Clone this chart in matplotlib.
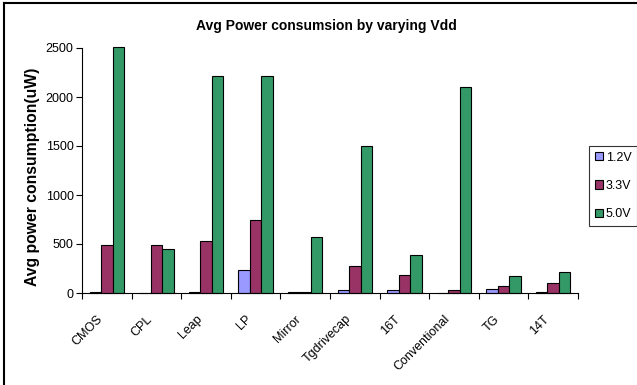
import matplotlib
matplotlib.use("Agg")
import matplotlib.pyplot as plt
import matplotlib.transforms as mtransforms
import numpy as np
from matplotlib.lines import Line2D

categories = ["CMOS", "CPL", "Leap", "LP", "Mirror", "Tgdrivecap", "16T",
              "Conventional", "TG", "14T"]
series_names = ["1.2V", "3.3V", "5.0V"]
v12 = [8, 0, 8, 232, 8, 30, 30, 0, 44, 8]
v33 = [490, 490, 535, 750, 8, 276, 187, 30, 72, 102]
v50 = [2510, 445, 2210, 2210, 575, 1500, 392, 2100, 174, 218]
colors = ["#9999FF", "#993366", "#339966"]

plt.rcParams["font.family"] = ["Liberation Sans", "DejaVu Sans"]

W, H = 637, 385
fig = plt.figure(figsize=(W / 100, H / 100), dpi=100)
ax = fig.add_axes([82 / W, 1 - 293 / H, (578 - 82) / W, (293 - 48) / H])

x = np.arange(len(categories))
w = 0.23
for i, (vals, c, name) in enumerate(zip([v12, v33, v50], colors, series_names)):
    ax.bar(x + (i - 1) * w, vals, width=w, color=c, edgecolor="black",
           linewidth=0.8, label=name, clip_on=False)

ax.set_xlim(-0.5, len(categories) - 0.5)
ax.set_ylim(0, 2500)
ax.set_yticks([0, 500, 1000, 1500, 2000, 2500])
ax.tick_params(axis="y", labelsize=9, length=4, width=0.8, direction="out", pad=2)

ax.set_xticks(x)
ax.set_xticklabels(categories, rotation=45, ha="right", va="top",
                   rotation_mode="anchor", fontsize=9)
ax.tick_params(axis="x", which="major", length=0, pad=0)
ax.set_xticks(np.arange(-0.5, len(categories)), minor=True)
ax.tick_params(axis="x", which="minor", length=4, width=0.8, direction="out")

# shift the slanted category labels down and to the left of their slots
shift = mtransforms.ScaledTranslation(-10 / 100, -20 / 100, fig.dpi_scale_trans)
for lbl in ax.get_xticklabels():
    lbl.set_transform(lbl.get_transform() + shift)

for s in ["top", "right"]:
    ax.spines[s].set_visible(False)
for s in ["left", "bottom"]:
    ax.spines[s].set_linewidth(0.8)

fig.text(326 / W, 1 - 26 / H, "Avg Power consumsion by varying Vdd",
         fontsize=10, fontweight="bold", ha="center", va="center")
fig.text(32.5 / W, 1 - 177 / H, "Avg power consumption(uW)", fontsize=11.3,
         fontweight="bold", rotation=90, ha="center", va="center")

handles = [plt.Rectangle((0, 0), 1, 1, facecolor=c, edgecolor="black", linewidth=0.8)
           for c in colors]
leg = fig.legend(handles, series_names, loc="upper left",
                 bbox_to_anchor=(589 / W, 1 - 146 / H),
                 fontsize=9, frameon=True, fancybox=False, handlelength=0.65,
                 handleheight=0.65, handletextpad=0.25, borderpad=0.45,
                 labelspacing=1.3, borderaxespad=0)
leg.get_frame().set_edgecolor("black")
leg.get_frame().set_linewidth(0.8)

# frame lines along the left and top edges of the figure
fig.add_artist(Line2D([4 / W, 4 / W], [0, 1 - 3 / H], color="black",
                      linewidth=1.5, transform=fig.transFigure))
fig.add_artist(Line2D([4 / W, 1], [1 - 3 / H, 1 - 3 / H], color="black",
                      linewidth=1.5, transform=fig.transFigure))

fig.savefig("out.png", dpi=100)
